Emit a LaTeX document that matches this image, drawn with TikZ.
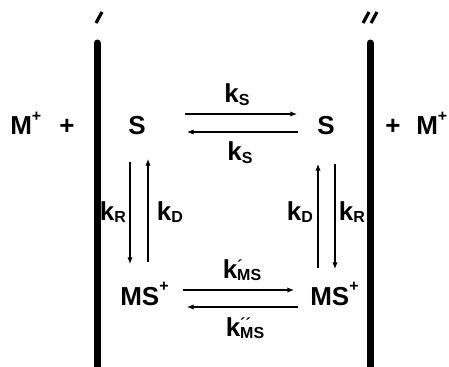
\documentclass[tikz,border=0pt]{standalone}
\usepackage{fontspec}
\setmainfont{Liberation Sans}
\usetikzlibrary{arrows.meta}

\newcommand{\bigfont}{\fontsize{19.5}{22}\selectfont\bfseries}
\newcommand{\subfont}{\fontsize{12}{13}\selectfont\bfseries}
\newcommand{\ksub}[1]{k\raisebox{-2.2pt}{\subfont #1}}
\newcommand{\kprime}[2]{k\rlap{\raisebox{5pt}{\subfont #1}}\raisebox{-2.2pt}{\subfont #2}}
\newcommand{\chg}{\raisebox{10pt}{\subfont +}}

\tikzset{
  species/.style={font=\bigfont, inner sep=0pt},
  rate/.style={font=\bigfont, inner sep=0pt, anchor=base},
  rxn/.style={line width=0.8pt, -{Latex[length=5pt,width=4pt]}},
  wall/.style={line width=5.25pt, line cap=round},
  tickmark/.style={line width=2.4pt},
}

\begin{document}
\begin{tikzpicture}[x=0.75pt, y=-0.75pt]
    \useasboundingbox (0,0) rectangle (449,367);

    % Walls
    \draw[wall] (97,43) -- (97,372);
    \draw[wall] (370,43) -- (370,372);
    \draw[tickmark] (96,23) -- (102,12);
    \draw[tickmark] (363,23) -- (369,12);
    \draw[tickmark] (371,23) -- (377,12);

    % Outer species
    \node[species, anchor=base west] (mL) at (10,135) {M\chg};
    \node[species, anchor=base] (plusL) at (67,135) {+};
    \node[species, anchor=base] (plusR) at (393,135) {+};
    \node[species, anchor=base west] (mR) at (416,135) {M\chg};

    % Inner species
    \node[species, anchor=base] (sL) at (137,135) {S};
    \node[species, anchor=base] (sR) at (326,135) {S};
    \node[species, anchor=base west] (msL) at (120,305) {MS\chg};
    \node[species, anchor=base west] (msR) at (310,305) {MS\chg};

    % Arrow ends
    \coordinate (sa1) at (185,114);  \coordinate (sa2) at (297,114);
    \coordinate (sb1) at (298,132);  \coordinate (sb2) at (187,132);
    \coordinate (ma1) at (183,290);  \coordinate (ma2) at (294,290);
    \coordinate (mb1) at (298,307);  \coordinate (mb2) at (187,307);
    \coordinate (la1) at (130,162);  \coordinate (la2) at (130,264);
    \coordinate (lb1) at (148,262);  \coordinate (lb2) at (148,159);
    \coordinate (ra1) at (318,268);  \coordinate (ra2) at (318,164);
    \coordinate (rb1) at (335,164);  \coordinate (rb2) at (335,269);

    % Reactions
    \draw[rxn] (sa1) -- (sa2);
    \draw[rxn] (sb1) -- (sb2);
    \draw[rxn] (ma1) -- (ma2);
    \draw[rxn] (mb1) -- (mb2);
    \draw[rxn] (la1) -- (la2);
    \draw[rxn] (lb1) -- (lb2);
    \draw[rxn] (ra1) -- (ra2);
    \draw[rxn] (rb1) -- (rb2);

    % Rate constants
    \node[rate] (ksTop) at (237,103) {\ksub{S}};
    \node[rate] (ksBot) at (240,161) {\ksub{S}};
    \node[rate] (krL) at (113,220) {\ksub{R}};
    \node[rate] (kdL) at (170,220) {\ksub{D}};
    \node[rate] (kdR) at (300,220) {\ksub{D}};
    \node[rate] (krR) at (352,220) {\ksub{R}};
    \node[rate] (kms1) at (242,278) {\kprime{´}{MS}};
    \node[rate] (kms2) at (245,336) {\kprime{´´}{MS}};

\end{tikzpicture}
\end{document}
